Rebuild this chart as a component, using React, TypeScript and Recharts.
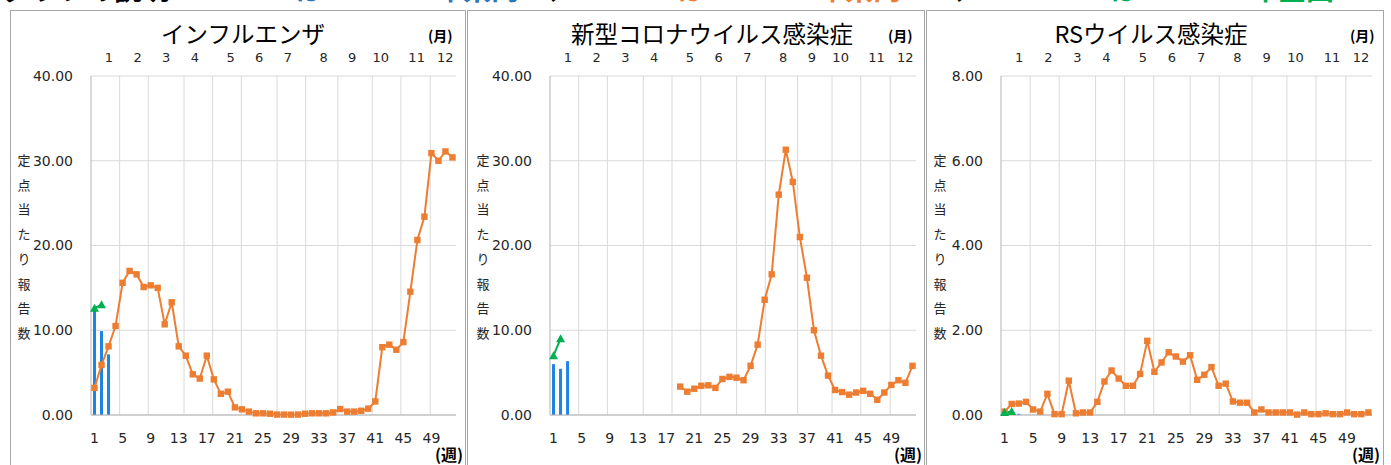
import React from 'react';
import { ComposedChart, Bar, Line, XAxis, YAxis, CartesianGrid, ReferenceLine } from 'recharts';

const weeks = [
  1, 2, 3, 4, 5, 6, 7, 8, 9, 10, 11, 12, 13, 14, 15, 16, 17, 18, 19, 20, 21, 22, 23, 24, 25, 26,
  27, 28, 29, 30, 31, 32, 33, 34, 35, 36, 37, 38, 39, 40, 41, 42, 43, 44, 45, 46, 47, 48, 49, 50, 51, 52,
];
const weekTickMarks = [0, 4, 8, 12, 16, 20, 24, 28, 32, 36, 40, 44, 48, 52];
const monthLabels = ['1', '2', '3', '4', '5', '6', '7', '8', '9', '10', '11', '12'];
const monthCenters = [2.5, 6.5, 10.5, 14.5, 19.5, 23.5, 27.5, 32.5, 36.5, 40.5, 45.5, 49.5];
const monthBoundaries = [4, 8, 13, 17, 21, 26, 30, 34.5, 39.3, 43.3, 47.4, 52];

// インフルエンザ
const fluCurrent = [12.35, 9.9, 7.15];
const fluNational = [12.6, 13.0];
const fluPrevious = [
  3.2, 5.9, 8.1, 10.5, 15.6, 17.0, 16.6, 15.1, 15.3, 15.0, 10.7, 13.3, 8.1, 7.0, 4.8, 4.3, 7.0, 4.2,
  2.5, 2.75, 0.9, 0.67, 0.4, 0.2, 0.2, 0.15, 0.05, 0.05, 0.04, 0.05, 0.15, 0.2, 0.2, 0.2, 0.3, 0.7,
  0.4, 0.4, 0.5, 0.75, 1.6, 8.0, 8.3, 7.7, 8.6, 14.55, 20.65, 23.4, 30.9, 30.0, 31.1, 30.4,
];

// 新型コロナウイルス感染症
const covidCurrent = [6.0, 5.45, 6.35];
const covidNational = [7.0, 9.0];
const covidPrevious = [
  null, null, null, null, null, null, null, null, null, null, null, null, null, null, null, null, null, null,
  3.35, 2.75, 3.1, 3.45, 3.5, 3.2, 4.25, 4.5, 4.4, 4.1, 5.8, 8.3, 13.6, 16.6, 26.0, 31.3, 27.5, 21.0,
  16.2, 10.0, 7.0, 4.65, 2.95, 2.7, 2.4, 2.65, 2.85, 2.5, 1.8, 2.65, 3.55, 4.1, 3.8, 5.8,
];

// RSウイルス感染症
const rsCurrent = [0.03, 0.03, 0.03];
const rsNational = [0.06, 0.08];
const rsPrevious = [
  0.08, 0.26, 0.27, 0.31, 0.13, 0.08, 0.5, 0.02, 0.02, 0.81, 0.04, 0.06, 0.06, 0.31, 0.79, 1.05, 0.86,
  0.69, 0.69, 0.97, 1.75, 1.02, 1.24, 1.48, 1.38, 1.26, 1.41, 0.83, 0.95, 1.13, 0.69, 0.74, 0.32, 0.29,
  0.29, 0.06, 0.13, 0.06, 0.06, 0.06, 0.06, 0.01, 0.06, 0.02, 0.02, 0.04, 0.02, 0.02, 0.06, 0.02, 0.02, 0.06,
];

const ticks40 = [0, 10, 20, 30, 40];
const ticks8 = [0, 2, 4, 6, 8];

const BLUE = '#1f83e6';
const ORANGE = '#ed7d31';
const GREEN = '#00b050';
const GRID = '#d9d9d9';
const AXIS = '#b3b3b3';
const BORDER = '#a6a6a6';
const TEXT = '#262626';
const LATIN = '"DejaVu Sans", "Noto Sans CJK JP", sans-serif';
const JP = '"Noto Sans CJK JP", sans-serif';

const buildRows = (current: number[], previous: (number | null)[], national: number[]) =>
  weeks.map((week, i) => ({
    week,
    current: current[i] ?? null,
    previous: previous[i] ?? null,
    national: national[i] ?? null,
  }));

const panels = [
  {
    title: 'インフルエンザ',
    rows: buildRows(fluCurrent, fluPrevious, fluNational),
    max: 40,
    ticks: ticks40,
    left: 10,
    width: 457,
    marginLeft: 21,
    marginRight: 11,
    titleX: 243,
    labelX: 17,
    monthX: 428,
    weekX: 435,
  },
  {
    title: '新型コロナウイルス感染症',
    rows: buildRows(covidCurrent, covidPrevious, covidNational),
    max: 40,
    ticks: ticks40,
    left: 467,
    width: 459,
    marginLeft: 23,
    marginRight: 10,
    titleX: 712,
    labelX: 476,
    monthX: 888,
    weekX: 894,
  },
  {
    title: 'RSウイルス感染症',
    rows: buildRows(rsCurrent, rsPrevious, rsNational),
    max: 8,
    ticks: ticks8,
    left: 926,
    width: 459,
    marginLeft: 15,
    marginRight: 13,
    titleX: 1151,
    labelX: 933,
    monthX: 1350,
    weekX: 1352,
  },
];

const SquareDot = (props: any) => {
  const { cx, cy, index, value } = props;
  if (cx == null || cy == null || value == null) return <g key={`sq-${index}`} />;
  return <rect key={`sq-${index}`} x={cx - 3.2} y={cy - 3.2} width={6.4} height={6.4} fill={ORANGE} />;
};

const TriangleDot = (props: any) => {
  const { cx, cy, index, value } = props;
  if (cx == null || cy == null || value == null) return <g key={`tri-${index}`} />;
  return (
    <polygon
      key={`tri-${index}`}
      points={`${cx},${cy - 4.5} ${cx + 4.5},${cy + 3.5} ${cx - 4.5},${cy + 3.5}`}
      fill={GREEN}
    />
  );
};

const yLabel = '定点当たり報告数'.split('');

function Panel({ p }: { p: (typeof panels)[number] }) {
  return (
    <>
      <div
        style={{
          position: 'absolute',
          left: p.left,
          top: 10,
          width: p.width - 1,
          height: 470,
          borderLeft: `1px solid ${BORDER}`,
          borderTop: `1px solid ${BORDER}`,
          borderRight: `1px solid ${BORDER}`,
          boxSizing: 'border-box',
        }}
      />
      <div style={{ position: 'absolute', left: p.left, top: 10 }}>
        <ComposedChart
          width={p.width}
          height={455}
          data={p.rows}
          margin={{ top: 0, right: p.marginRight, bottom: 0, left: p.marginLeft }}
        >
          <CartesianGrid xAxisId="mo" vertical={false} stroke={GRID} />
          <XAxis
            xAxisId="mo"
            orientation="top"
            type="number"
            domain={[0, 52]}
            allowDataOverflow
            ticks={monthCenters}
            interval={0}
            tickFormatter={(v: number) => monthLabels[monthCenters.indexOf(v)] ?? ''}
            axisLine={false}
            tickLine={false}
            tickSize={0}
            tickMargin={14}
            height={66}
            tick={{ fontSize: 13, fill: TEXT, fontFamily: LATIN }}
          />
          <XAxis
            xAxisId="wk"
            dataKey="week"
            type="category"
            interval={3}
            axisLine={{ stroke: AXIS }}
            tickLine={false}
            tickSize={0}
            tickMargin={18}
            height={50}
            tick={{ fontSize: 14, fill: TEXT, fontFamily: LATIN }}
          />
          <XAxis
            xAxisId="mk"
            type="number"
            domain={[0, 52]}
            allowDataOverflow
            ticks={weekTickMarks}
            interval={0}
            axisLine={false}
            tick={false}
            tickLine={{ stroke: AXIS }}
            tickSize={5}
            height={0}
          />
          <YAxis
            domain={[0, p.max]}
            ticks={p.ticks}
            interval={0}
            tickFormatter={(v: number) => v.toFixed(2)}
            axisLine={{ stroke: AXIS }}
            tickLine={false}
            tickSize={0}
            tickMargin={18}
            width={60}
            tick={{ fontSize: 14, fill: TEXT, fontFamily: LATIN }}
          />
          {monthBoundaries.map((b) => (
            <ReferenceLine key={b} xAxisId="mo" x={b} stroke={GRID} />
          ))}
          <Bar xAxisId="wk" dataKey="current" fill={BLUE} barSize={3} isAnimationActive={false} />
          <Line
            xAxisId="wk"
            dataKey="previous"
            stroke={ORANGE}
            strokeWidth={2}
            dot={SquareDot}
            activeDot={false}
            isAnimationActive={false}
          />
          <Line
            xAxisId="wk"
            dataKey="national"
            stroke={GREEN}
            strokeWidth={2}
            dot={TriangleDot}
            activeDot={false}
            isAnimationActive={false}
          />
        </ComposedChart>
      </div>
      <div
        style={{
          position: 'absolute',
          left: p.titleX - 200,
          width: 400,
          top: 18,
          textAlign: 'center',
          fontFamily: JP,
          fontSize: 23.5,
          lineHeight: '30px',
          color: '#000',
          whiteSpace: 'nowrap',
        }}
      >
        {p.title}
      </div>
      <div
        style={{
          position: 'absolute',
          left: p.monthX,
          top: 25,
          fontFamily: JP,
          fontSize: 14,
          fontWeight: 'bold',
          lineHeight: '20px',
          color: '#000',
        }}
      >
        (月)
      </div>
      <div
        style={{
          position: 'absolute',
          left: p.weekX,
          top: 443,
          fontFamily: JP,
          fontSize: 16,
          fontWeight: 'bold',
          lineHeight: '22px',
          color: '#000',
        }}
      >
        (週)
      </div>
      <div
        style={{
          position: 'absolute',
          left: p.labelX,
          top: 148,
          width: 14,
          fontFamily: JP,
          fontSize: 13,
          lineHeight: '24.7px',
          color: TEXT,
          textAlign: 'center',
        }}
      >
        {yLabel.map((c, i) => (
          <div key={i}>{c}</div>
        ))}
      </div>
    </>
  );
}

const headerStyle = (left: number, color: string): React.CSSProperties => ({
  position: 'absolute',
  left,
  top: -26,
  fontFamily: JP,
  fontSize: 28,
  fontWeight: 'bold',
  lineHeight: 1,
  color,
  whiteSpace: 'nowrap',
});

export default function App() {
  return (
    <div
      style={{
        position: 'absolute',
        left: 0,
        top: 0,
        width: 1391,
        height: 465,
        overflow: 'hidden',
        background: '#fff',
      }}
    >
      <div style={headerStyle(2, '#000')}>グラフの説明</div>
      <div style={headerStyle(295, '#2e75b6')}>は２０２４年県内</div>
      <div style={headerStyle(546, '#000')}>、</div>
      <div style={headerStyle(578, ORANGE)}>■</div>
      <div style={headerStyle(677, ORANGE)}>は２０２３年県内</div>
      <div style={headerStyle(952, '#000')}>、</div>
      <div style={headerStyle(1110, GREEN)}>は２０２４年全国</div>
      {panels.map((p) => (
        <Panel key={p.title} p={p} />
      ))}
    </div>
  );
}
